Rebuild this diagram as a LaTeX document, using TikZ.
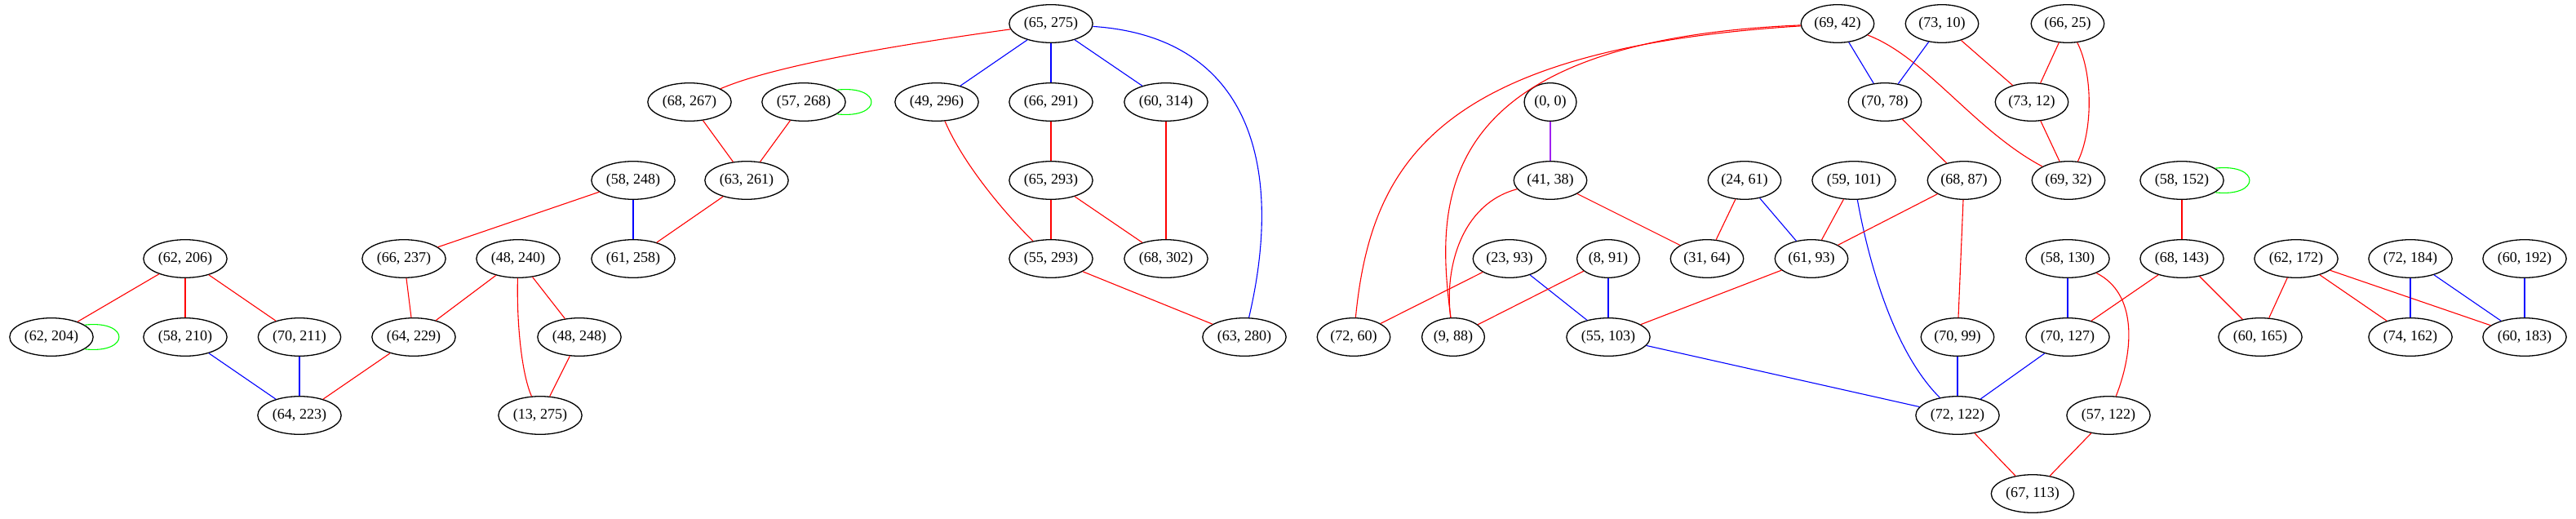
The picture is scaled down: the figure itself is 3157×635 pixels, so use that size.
\documentclass[tikz,border=0pt]{standalone}
\usepackage{fontspec}
\setmainfont{Liberation Serif}
\usetikzlibrary{shapes.geometric}
\definecolor{gvred}{RGB}{255,0,0}
\definecolor{gvblue}{RGB}{0,0,255}
\definecolor{gvgreen}{RGB}{0,255,0}
\definecolor{gvpurple}{RGB}{160,32,240}
\newcommand{\vfont}{\fontsize{18.1}{21}\selectfont}

\begin{document}
\begin{tikzpicture}[
    x=1pt, y=-1pt,
    line width=1.1pt,
    vtx/.style={ellipse, draw=black, line width=1.3pt, minimum height=46.6pt, inner xsep=3pt, inner ysep=2pt, font=\vfont},
    redge/.style={draw=gvred},
    bedge/.style={draw=gvblue},
    pedge/.style={draw=gvpurple},
    gloop/.style={draw=gvgreen}
]
    \useasboundingbox (0,0) rectangle (3157,635);

    % left component
    \node[vtx] (v62-206) at (227,317) {(62, 206)};
    \node[vtx] (v62-204) at (63,413) {(62, 204)};
    \node[vtx] (v58-210) at (227,413) {(58, 210)};
    \node[vtx] (v70-211) at (367,413) {(70, 211)};
    \node[vtx] (v64-223) at (367,509) {(64, 223)};
    \node[vtx] (v66-237) at (495,317) {(66, 237)};
    \node[vtx] (v48-240) at (635,317) {(48, 240)};
    \node[vtx] (v64-229) at (507,413) {(64, 229)};
    \node[vtx] (v48-248) at (710,413) {(48, 248)};
    \node[vtx] (v13-275) at (662,509) {(13, 275)};
    \node[vtx] (v58-248) at (776,221) {(58, 248)};
    \node[vtx] (v61-258) at (776,317) {(61, 258)};
    \node[vtx] (v65-275) at (1288,29) {(65, 275)};
    \node[vtx] (v68-267) at (845,125) {(68, 267)};
    \node[vtx] (v57-268) at (985,125) {(57, 268)};
    \node[vtx] (v49-296) at (1148,125) {(49, 296)};
    \node[vtx] (v66-291) at (1288,125) {(66, 291)};
    \node[vtx] (v60-314) at (1429,125) {(60, 314)};
    \node[vtx] (v63-261) at (915,221) {(63, 261)};
    \node[vtx] (v65-293) at (1288,221) {(65, 293)};
    \node[vtx] (v55-293) at (1288,317) {(55, 293)};
    \node[vtx] (v68-302) at (1429,317) {(68, 302)};
    \node[vtx] (v63-280) at (1525,413) {(63, 280)};

    % right component
    \node[vtx] (v69-42) at (2252,29) {(69, 42)};
    \node[vtx] (v73-10) at (2380,29) {(73, 10)};
    \node[vtx] (v66-25) at (2534,29) {(66, 25)};
    \node[vtx] (v0-0) at (1900,125) {(0, 0)};
    \node[vtx] (v70-78) at (2310,125) {(70, 78)};
    \node[vtx] (v73-12) at (2490,125) {(73, 12)};
    \node[vtx] (v41-38) at (1900,221) {(41, 38)};
    \node[vtx] (v24-61) at (2138,221) {(24, 61)};
    \node[vtx] (v59-101) at (2272,221) {(59, 101)};
    \node[vtx] (v68-87) at (2407,221) {(68, 87)};
    \node[vtx] (v69-32) at (2535,221) {(69, 32)};
    \node[vtx] (v58-152) at (2674,221) {(58, 152)};
    \node[vtx] (v23-93) at (1850,317) {(23, 93)};
    \node[vtx] (v8-91) at (1971,317) {(8, 91)};
    \node[vtx] (v31-64) at (2092,317) {(31, 64)};
    \node[vtx] (v61-93) at (2220,317) {(61, 93)};
    \node[vtx] (v58-130) at (2534,317) {(58, 130)};
    \node[vtx] (v68-143) at (2674,317) {(68, 143)};
    \node[vtx] (v62-172) at (2814,317) {(62, 172)};
    \node[vtx] (v72-184) at (2954,317) {(72, 184)};
    \node[vtx] (v60-192) at (3094,317) {(60, 192)};
    \node[vtx] (v72-60) at (1659,413) {(72, 60)};
    \node[vtx] (v9-88) at (1781,413) {(9, 88)};
    \node[vtx] (v55-103) at (1971,413) {(55, 103)};
    \node[vtx] (v70-99) at (2399,413) {(70, 99)};
    \node[vtx] (v70-127) at (2534,413) {(70, 127)};
    \node[vtx] (v60-165) at (2770,413) {(60, 165)};
    \node[vtx] (v74-162) at (2954,413) {(74, 162)};
    \node[vtx] (v60-183) at (3094,413) {(60, 183)};
    \node[vtx] (v72-122) at (2399,509) {(72, 122)};
    \node[vtx] (v57-122) at (2584,509) {(57, 122)};
    \node[vtx] (v67-113) at (2491,605) {(67, 113)};

    % left edges
    \draw[redge] (v62-206) -- (v62-204);
    \draw[redge] (v62-206) -- (v58-210);
    \draw[redge] (v62-206) -- (v70-211);
    \draw[gloop] (v62-204.20) .. controls (160,392) and (160,434) .. (v62-204.-20);
    \draw[bedge] (v58-210) -- (v64-223);
    \draw[bedge] (v70-211) -- (v64-223);
    \draw[redge] (v64-229) -- (v64-223);
    \draw[redge] (v66-237) -- (v64-229);
    \draw[redge] (v48-240) -- (v64-229);
    \draw[redge] (v48-240) -- (v48-248);
    \draw[redge] (v48-240) .. controls (633,400) and (640,460) .. (v13-275);
    \draw[redge] (v48-248) -- (v13-275);
    \draw[redge] (v58-248) -- (v66-237);
    \draw[bedge] (v58-248) -- (v61-258);
    \draw[redge] (v63-261) -- (v61-258);
    \draw[redge] (v68-267) -- (v63-261);
    \draw[redge] (v57-268) -- (v63-261);
    \draw[gloop] (v57-268.20) .. controls (1082,104) and (1082,146) .. (v57-268.-20);
    \draw[redge] (v65-275) .. controls (1100,55) and (950,80) .. (v68-267);
    \draw[bedge] (v65-275) -- (v49-296);
    \draw[bedge] (v65-275) -- (v66-291);
    \draw[bedge] (v65-275) -- (v60-314);
    \draw[bedge] (v65-275) .. controls (1530,45) and (1575,200) .. (v63-280);
    \draw[redge] (v49-296) .. controls (1180,200) and (1230,260) .. (v55-293);
    \draw[redge] (v66-291) -- (v65-293);
    \draw[redge] (v65-293) -- (v55-293);
    \draw[redge] (v65-293) -- (v68-302);
    \draw[redge] (v60-314) -- (v68-302);
    \draw[redge] (v55-293) -- (v63-280);

    % right edges
    \draw[redge] (v69-42) .. controls (1760,60) and (1680,200) .. (v72-60);
    \draw[redge] (v69-42) .. controls (1750,50) and (1760,250) .. (v9-88);
    \draw[bedge] (v69-42) -- (v70-78);
    \draw[redge] (v69-42) .. controls (2360,70) and (2420,160) .. (v69-32);
    \draw[bedge] (v73-10) -- (v70-78);
    \draw[redge] (v73-10) -- (v73-12);
    \draw[redge] (v66-25) -- (v73-12);
    \draw[redge] (v66-25) .. controls (2565,90) and (2565,160) .. (v69-32);
    \draw[redge] (v73-12) -- (v69-32);
    \draw[redge] (v70-78) -- (v68-87);
    \draw[pedge] (v0-0) -- (v41-38);
    \draw[redge] (v41-38) .. controls (1790,250) and (1770,330) .. (v9-88);
    \draw[redge] (v41-38) -- (v31-64);
    \draw[redge] (v24-61) -- (v31-64);
    \draw[bedge] (v24-61) -- (v61-93);
    \draw[redge] (v59-101) -- (v61-93);
    \draw[bedge] (v59-101) .. controls (2290,320) and (2320,430) .. (v72-122);
    \draw[redge] (v68-87) -- (v61-93);
    \draw[redge] (v68-87) -- (v70-99);
    \draw[redge] (v23-93) -- (v72-60);
    \draw[bedge] (v23-93) -- (v55-103);
    \draw[redge] (v8-91) -- (v9-88);
    \draw[bedge] (v8-91) -- (v55-103);
    \draw[redge] (v61-93) -- (v55-103);
    \draw[bedge] (v55-103) -- (v72-122);
    \draw[bedge] (v70-99) -- (v72-122);
    \draw[bedge] (v70-127) -- (v72-122);
    \draw[bedge] (v58-130) -- (v70-127);
    \draw[redge] (v58-130) .. controls (2620,360) and (2615,430) .. (v57-122);
    \draw[redge] (v68-143) -- (v70-127);
    \draw[redge] (v68-143) -- (v60-165);
    \draw[redge] (v58-152) -- (v68-143);
    \draw[gloop] (v58-152.20) .. controls (2771,200) and (2771,242) .. (v58-152.-20);
    \draw[redge] (v62-172) -- (v60-165);
    \draw[redge] (v62-172) -- (v74-162);
    \draw[redge] (v62-172) -- (v60-183);
    \draw[bedge] (v72-184) -- (v74-162);
    \draw[bedge] (v72-184) -- (v60-183);
    \draw[bedge] (v60-192) -- (v60-183);
    \draw[redge] (v72-122) -- (v67-113);
    \draw[redge] (v57-122) -- (v67-113);
\end{tikzpicture}
\end{document}
